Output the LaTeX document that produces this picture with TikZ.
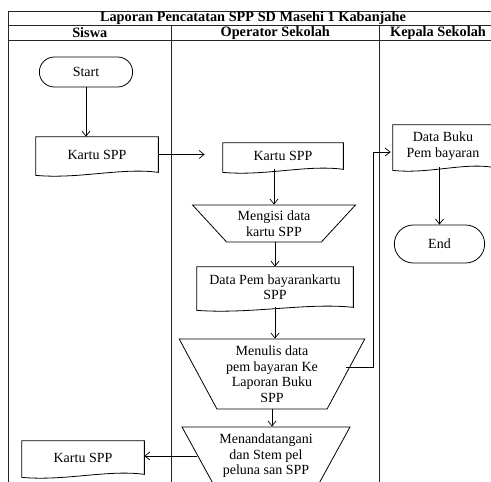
\documentclass[tikz,border=0pt]{standalone}
\usepackage{fontspec}
\setmainfont{Liberation Serif}
\usetikzlibrary{shapes.geometric,shapes.misc,calc,arrows.meta}

% document symbol: flat top, wavy bottom
\newcommand{\docshape}[1]{%
  \draw[line width=0.8pt] (#1.north west) -- (#1.north east) -- (#1.south east)
    .. controls ($(#1.south east)!0.3!(#1.south west)+(0,-5)$) and ($(#1.south east)!0.65!(#1.south west)+(0,7)$)
    .. ($(#1.south west)+(0,3)$) -- cycle;}

\tikzset{
  flow/.style={font=\fontsize{14}{15.5}\selectfont, align=center},
  terminal/.style={flow, draw, line width=0.8pt, rounded rectangle, minimum width=#1, minimum height=30pt},
  docbox/.style={flow, inner sep=1pt, minimum width=#1},
  manual/.style={flow, draw, line width=0.8pt, trapezium, shape border rotate=180, trapezium stretches=true, inner xsep=1pt},
  lane/.style={line width=1pt, draw=black!85},
  title/.style={font=\fontsize{14.3}{16}\selectfont\bfseries},
  >={Straight Barb[length=5pt,width=8pt]}
}

\begin{document}
\begin{tikzpicture}[x=1pt, y=-1pt, line width=0.7pt]
  \useasboundingbox (0,0) rectangle (491,482);

  % swimlanes
  \draw[lane] (8.5,11.5) rectangle (497,520);
  \draw[lane] (8.5,25) -- (497,25);
  \draw[lane] (8.5,40.5) -- (497,40.5);
  \draw[lane] (171,25) -- (171,520);
  \draw[lane] (379.5,25) -- (379.5,520);
  \node[title] (judul) at (253,18) {Laporan Pencatatan SPP SD Masehi 1 Kabanjahe};
  \node[title] (siswa) at (89.75,32.75) {Siswa};
  \node[title] (operator) at (275.25,32.75) {Operator Sekolah};
  \node[title] (kepala) at (438,32.75) {Kepala Sekolah};

  % Siswa
  \node[terminal=100pt] (start) at (86,72) {Start};
  \node[docbox=122pt, minimum height=35pt] (kartuA) at (97,154.5) {Kartu SPP};
  \docshape{kartuA}
  \node[docbox=122pt, minimum height=33pt] (kartuC) at (83,457.5) {Kartu SPP};
  \docshape{kartuC}

  % Operator Sekolah
  \node[docbox=120pt, minimum height=26pt] (kartuB) at (283,156) {Kartu SPP};
  \docshape{kartuB}
  \node[manual, minimum width=163pt, minimum height=37pt, trapezium angle=50] (isi) at (274,223.5) {Mengisi data\\kartu SPP};
  \node[docbox=156pt, minimum height=40pt] (dataA) at (275,287) {Data Pem bayarankartu\\SPP};
  \docshape{dataA}
  \node[manual, minimum width=186pt, minimum height=70pt, trapezium angle=63] (tulis) at (272,374) {Menulis data\\pem bayaran Ke\\Laporan Buku\\SPP};
  \node[manual, minimum width=168pt, minimum height=58pt, trapezium angle=60] (ttd) at (266,456) {Menandatangani\\dan Stem pel\\peluna san SPP};

  % Kepala Sekolah
  \node[docbox=100pt, minimum height=42pt] (buku) at (443,146) {Data Buku\\Pem bayaran};
  \docshape{buku}
  \node[terminal=97pt, minimum height=38pt] (stop) at (439.5,244) {End};

  % connectors
  \draw[->] (start.south) -- (start.south |- kartuA.north);
  \draw[->, shorten >=18pt] (kartuA.east) -- (kartuA.east -| kartuB.west);
  \draw[->] (isi.north |- kartuB.south) -- (isi.north);
  \draw[->] (isi.south -| dataA.north) -- (dataA.north);
  \draw[->] (dataA.south) -- (dataA.south |- tulis.north);
  \draw[->] (tulis.south) -- (tulis.south |- ttd.north);
  \draw[->, shorten >=2pt] ([yshift=7pt]tulis.east) -- ++(27,0) |- ([yshift=-6pt]buku.west);
  \draw[->] (stop.north |- buku.south) -- (stop.north);
  \draw[->] (ttd.west) -- (ttd.west -| kartuC.east);
\end{tikzpicture}
\end{document}
